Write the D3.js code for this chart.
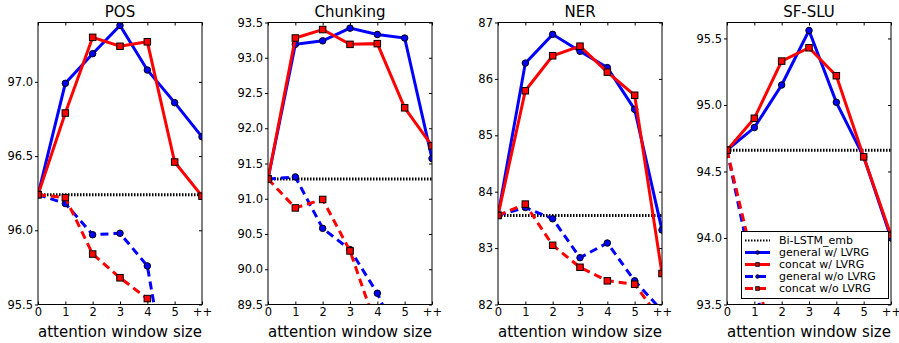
<!DOCTYPE html>
<html>
<head>
<meta charset="utf-8">
<script src="https://cdn.jsdelivr.net/npm/d3@7"></script>
<style>
  body { margin: 0; background: #fff; }
  svg { display: block; font-family: "DejaVu Sans", sans-serif; }
</style>
</head>
<body>
<div id="chart"></div>
<script>
const windows = ["0", "1", "2", "3", "4", "5", "++"];
const tasks = ["POS", "Chunking", "NER", "SF-SLU"];
const yDomains = [[95.5, 97.4], [89.5, 93.5], [82, 87], [93.5, 95.62]];
const yTicks = [
  [95.5, 96.0, 96.5, 97.0],
  [89.5, 90.0, 90.5, 91.0, 91.5, 92.0, 92.5, 93.0, 93.5],
  [82, 83, 84, 85, 86, 87],
  [93.5, 94.0, 94.5, 95.0, 95.5]
];
const baseline = [96.24, 91.28, 83.58, 94.66];
const generalLVRG = [
  [96.24, 96.99, 97.19, 97.38, 97.08, 96.86, 96.63],
  [91.28, 93.19, 93.24, 93.42, 93.33, 93.28, 91.57],
  [83.58, 86.28, 86.79, 86.49, 86.20, 85.46, 83.32],
  [94.66, 94.83, 95.15, 95.56, 95.02, 94.61, 94.00]
];
const concatLVRG = [
  [96.24, 96.79, 97.30, 97.24, 97.27, 96.46, 96.23],
  [91.28, 93.28, 93.40, 93.19, 93.20, 92.29, 91.75],
  [83.58, 85.79, 86.41, 86.58, 86.12, 85.71, 82.55],
  [94.66, 94.90, 95.33, 95.43, 95.22, 94.61, 94.02]
];
const generalNoLVRG = [
  [96.24, 96.18, 95.97, 95.98, 95.76, 94.70],
  [91.28, 91.31, 90.58, 90.28, 89.66, 88.80],
  [83.58, 83.72, 83.52, 82.83, 83.09, 82.42, 81.89],
  [94.66, 93.68, 92.70]
];
const concatNoLVRG = [
  [96.24, 96.22, 95.84, 95.68, 95.54, 94.00],
  [91.28, 90.87, 90.99, 90.26, 89.14],
  [83.58, 83.78, 83.05, 82.66, 82.42, 82.36, 81.70],
  [94.66, 93.79, 92.90]
];
const legendLabels = ["Bi-LSTM_emb", "general w/ LVRG", "concat w/ LVRG", "general w/o LVRG", "concat w/o LVRG"];

const width = 899, height = 343;
const lefts = [38, 268, 498, 727];
const plotW = 164, plotTop = 22.5, plotBottom = 304.5;

const svg = d3.select("#chart").append("svg")
  .attr("width", width)
  .attr("height", height);

const series = [
  { data: generalLVRG, color: "#0000ff", dash: null, marker: "circle" },
  { data: concatLVRG, color: "#ff0000", dash: null, marker: "square" },
  { data: generalNoLVRG, color: "#0000ff", dash: "8,5", marker: "circle" },
  { data: concatNoLVRG, color: "#ff0000", dash: "8,5", marker: "square" }
];

function drawMarker(g, kind, cx, cy, color, size) {
  if (kind === "circle") {
    g.append("circle")
      .attr("cx", cx).attr("cy", cy).attr("r", size / 2)
      .attr("fill", color).attr("stroke", "#000").attr("stroke-width", 1);
  } else {
    g.append("rect")
      .attr("x", cx - size / 2).attr("y", cy - size / 2)
      .attr("width", size).attr("height", size)
      .attr("fill", color).attr("stroke", "#000").attr("stroke-width", 1);
  }
}

tasks.forEach((task, t) => {
  const x = d3.scaleLinear().domain([0, 6]).range([lefts[t], lefts[t] + plotW]);
  const y = d3.scaleLinear().domain(yDomains[t]).range([plotBottom, plotTop]);

  svg.append("clipPath").attr("id", "clip" + t)
    .append("rect")
    .attr("x", lefts[t]).attr("y", plotTop)
    .attr("width", plotW).attr("height", plotBottom - plotTop);

  const g = svg.append("g").attr("clip-path", `url(#clip${t})`);

  // baseline
  g.append("line")
    .attr("x1", x(0)).attr("x2", x(6))
    .attr("y1", y(baseline[t])).attr("y2", y(baseline[t]))
    .attr("stroke", "#000").attr("stroke-width", 3)
    .attr("stroke-dasharray", "1.5,1.5");

  const line = d3.line()
    .x((d, i) => x(i))
    .y(d => y(d));

  series.forEach(s => {
    const vals = s.data[t];
    g.append("path")
      .datum(vals)
      .attr("fill", "none")
      .attr("stroke", s.color)
      .attr("stroke-width", 3)
      .attr("stroke-dasharray", s.dash)
      .attr("d", line);
    vals.forEach((v, i) => drawMarker(g, s.marker, x(i), y(v), s.color, 6.5));
  });

  // frame
  svg.append("rect")
    .attr("x", lefts[t]).attr("y", plotTop)
    .attr("width", plotW).attr("height", plotBottom - plotTop)
    .attr("fill", "none").attr("stroke", "#000").attr("stroke-width", 1);

  const fmt = t === 2 ? d3.format("d") : d3.format(".1f");

  const yl = svg.append("g")
    .attr("transform", `translate(${lefts[t]},0)`)
    .call(d3.axisLeft(y).tickValues(yTicks[t]).tickFormat(fmt).tickSize(3).tickPadding(2).tickSizeOuter(0));
  const yr = svg.append("g")
    .attr("transform", `translate(${lefts[t] + plotW},0)`)
    .call(d3.axisRight(y).tickValues(yTicks[t]).tickFormat("").tickSize(-3).tickSizeOuter(0));
  const xb = svg.append("g")
    .attr("transform", `translate(0,${plotBottom})`)
    .call(d3.axisBottom(x).ticks(7).tickFormat(i => windows[i]).tickSize(-3).tickPadding(3).tickSizeOuter(0));
  const xt = svg.append("g")
    .attr("transform", `translate(0,${plotTop})`)
    .call(d3.axisTop(x).ticks(7).tickFormat("").tickSize(-3).tickSizeOuter(0));

  [yl, yr, xb, xt].forEach(a => {
    a.select(".domain").remove();
    a.selectAll("text").style("font-size", "11.5px").attr("fill", "#000")
      .style("font-family", "DejaVu Sans");
    a.selectAll("line").attr("stroke", "#000");
  });

  svg.append("text")
    .attr("x", lefts[t] + plotW / 2).attr("y", 17)
    .attr("text-anchor", "middle")
    .style("font-size", "15px")
    .text(task);

  svg.append("text")
    .attr("x", lefts[t] + plotW / 2).attr("y", 336.5)
    .attr("text-anchor", "middle")
    .style("font-size", "15px")
    .text("attention window size");
});

// legend in last panel
const lg = svg.append("g");
lg.append("rect")
  .attr("x", 741.5).attr("y", 231.5)
  .attr("width", 147).attr("height", 67)
  .attr("fill", "#fff").attr("stroke", "#000").attr("stroke-width", 1);

const legendStyles = [
  { color: "#000", dash: "1.5,1.5", marker: null, w: 2 },
  { color: "#0000ff", dash: null, marker: "circle", w: 3 },
  { color: "#ff0000", dash: null, marker: "square", w: 3 },
  { color: "#0000ff", dash: "8,5", marker: "circle", w: 3 },
  { color: "#ff0000", dash: "8,5", marker: "square", w: 3 }
];

legendLabels.forEach((label, i) => {
  const cy = 240.5 + i * 12;
  const st = legendStyles[i];
  lg.append("line")
    .attr("x1", 745).attr("x2", 770)
    .attr("y1", cy).attr("y2", cy)
    .attr("stroke", st.color).attr("stroke-width", st.w)
    .attr("stroke-dasharray", st.dash);
  if (st.marker) drawMarker(lg, st.marker, 757.5, cy, st.color, 3.5);
  lg.append("text")
    .attr("x", 779).attr("y", cy)
    .attr("dy", "0.35em")
    .style("font-size", "11px")
    .text(label);
});
</script>
</body>
</html>
